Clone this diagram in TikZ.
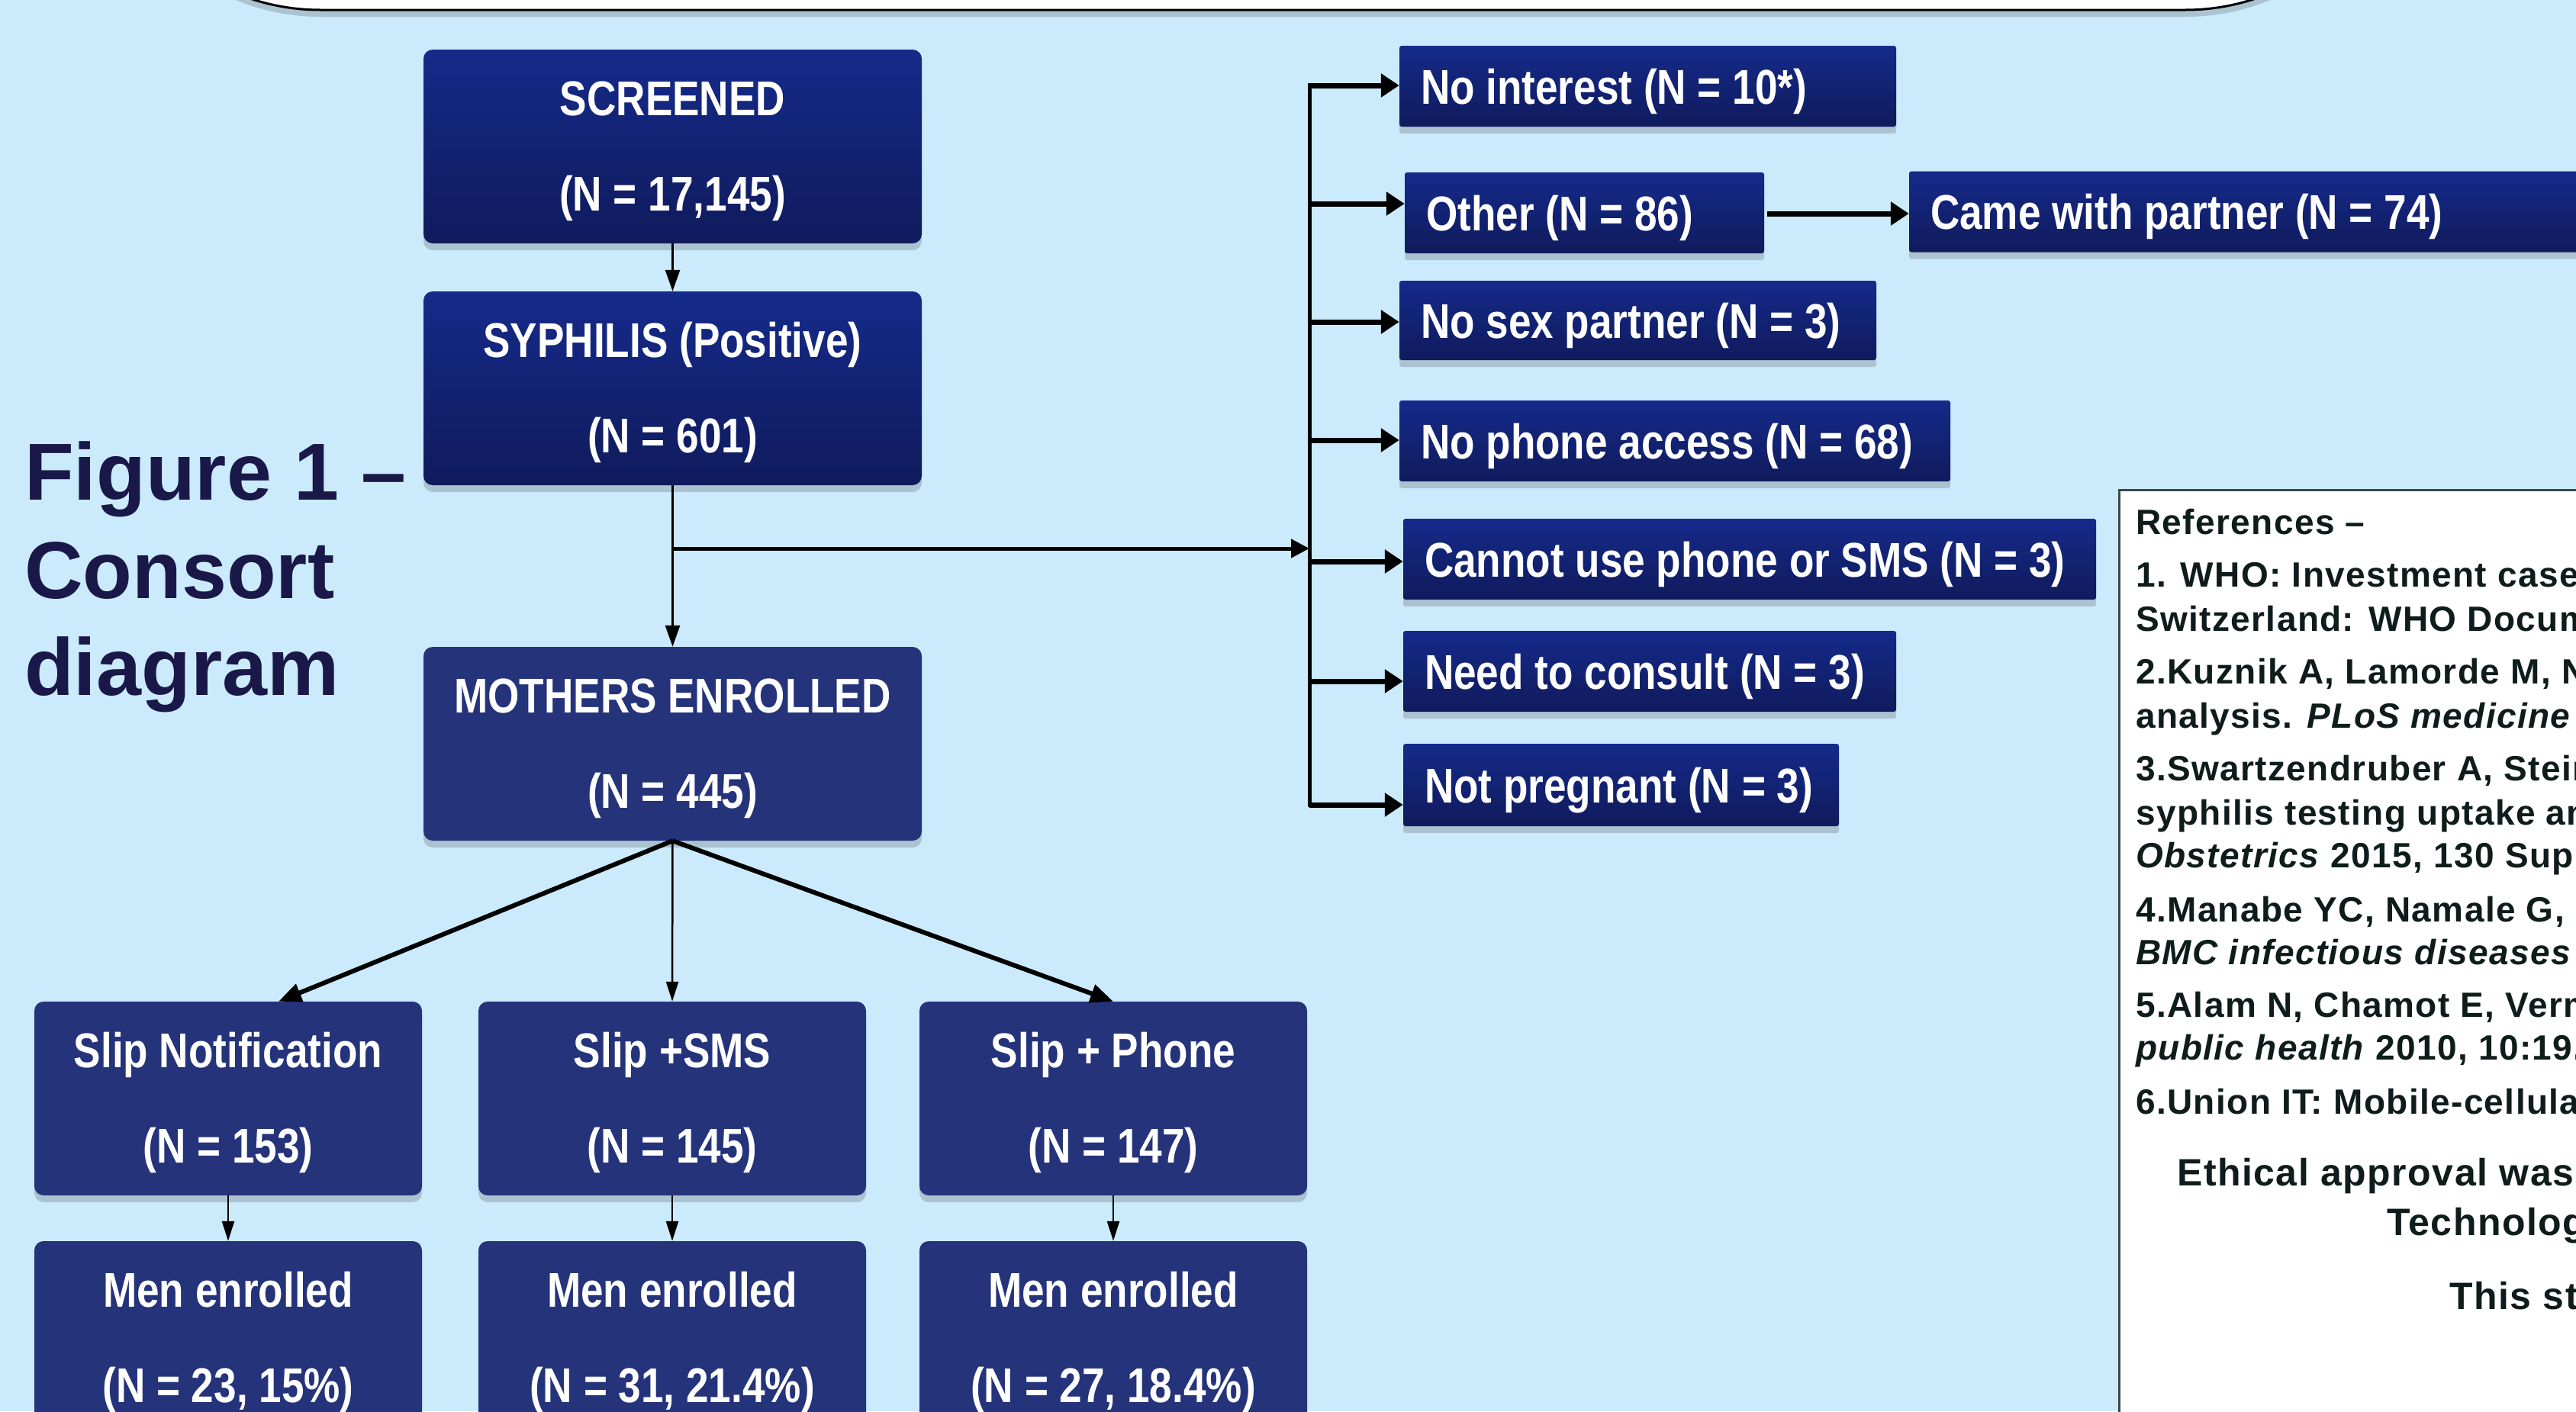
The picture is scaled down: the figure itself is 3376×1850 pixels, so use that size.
\documentclass[tikz,border=0pt]{standalone}
\usepackage{fontspec}
\setmainfont{Liberation Sans}
\newfontfamily\boxfont[FakeStretch=0.83]{Liberation Sans}
\newfontfamily\reffont[LetterSpace=3]{Liberation Sans}
\usetikzlibrary{arrows.meta,shadows}
\definecolor{bg}{HTML}{CBEBFD}
\definecolor{boxtop}{HTML}{152A8A}
\definecolor{boxbot}{HTML}{101B5C}
\definecolor{flatbox}{HTML}{24337A}
\definecolor{figtext}{HTML}{1A1848}
\definecolor{reftext}{HTML}{0F1C1C}
\definecolor{refborder}{HTML}{3A4848}
\newcommand\sidetxt[1]{\mbox{\spaceskip=0pt\xspaceskip=0pt\relax #1}}
\begin{document}
\begin{tikzpicture}[x=1pt,y=-1pt,
  shad/.style={drop shadow={shadow xshift=0pt,shadow yshift=-9pt,opacity=0.25,fill=black!70}},
  bigbox/.style={shad, rounded corners=12pt, minimum width=653pt, minimum height=254pt,
    inner sep=0pt, align=center, text=white,
    font=\boxfont\bfseries\fontsize{64}{125}\selectfont, text height=171pt, text depth=3pt},
  gradbox/.style={bigbox, top color=boxtop, bottom color=boxbot},
  flatbig/.style={bigbox, fill=flatbox},
  armbox/.style={flatbig, minimum width=508pt},
  sidebox/.style={shad, rounded corners=3pt, top color=boxtop, bottom color=boxbot,
    inner xsep=28pt, inner ysep=0pt, align=left, text=white, minimum height=106pt,
    font=\boxfont\bfseries\fontsize{64}{70}\selectfont, text height=46pt, text depth=0pt},
  conn/.style={line width=3pt, -{Triangle[length=28pt,width=19pt]}},
  thickconn/.style={line width=6pt, -{Triangle[length=30pt,width=24pt]}},
  thinconn/.style={line width=2.5pt, -{Triangle[length=26pt,width=16pt]}},
  sidearr/.style={line width=7pt, -{Triangle[length=24pt,width=30pt]}},
  figlbl/.style={anchor=base west, text=figtext, inner sep=0pt,
    font=\bfseries\fontsize{106}{128}\selectfont},
  refline/.style={anchor=base west, text=reftext, inner sep=0pt,
    font=\reffont\bfseries\fontsize{46}{58}\selectfont},
  ethline/.style={anchor=base west, text=reftext, inner sep=0pt,
    font=\reffont\bfseries\fontsize{50}{60}\selectfont}
]
\useasboundingbox (0,0) rectangle (3376,1850);
\fill[bg] (0,0) rectangle (3376,1850);

% top white banner (only its bottom edge is visible)
\draw[shad, fill=white, draw=black, line width=3pt, rounded corners=290pt]
  (130,-1000) rectangle (3154,13);

% figure label
\node[figlbl] (fig1) at (32,655) {Figure 1 –};
\node[figlbl] (fig2) at (32,784) {Consort};
\node[figlbl] (fig3) at (32,911) {diagram};

% main column
\node[gradbox] (scr) at (881.5,192) {SCREENED\\(N = 17,145)};
\node[gradbox] (syp) at (881.5,509) {SYPHILIS (Positive)\\(N = 601)};
\node[flatbig] (mot) at (881.5,975) {MOTHERS ENROLLED\\(N = 445)};

\node[armbox] (sl1) at (299,1440) {Slip Notification\\(N = 153)};
\node[armbox] (sl2) at (881,1440) {Slip +SMS\\(N = 145)};
\node[armbox] (sl3) at (1459,1440) {Slip + Phone\\(N = 147)};

\node[armbox] (me1) at (299,1754) {Men enrolled\\(N = 23, 15\%)};
\node[armbox] (me2) at (881,1754) {Men enrolled\\(N = 31, 21.4\%)};
\node[armbox] (me3) at (1459,1754) {Men enrolled\\(N = 27, 18.4\%)};

% exclusion boxes
\node[sidebox, text width=595pt] (ni) at (2159.5,113) {\sidetxt{No interest (N = 10*)}};
\node[sidebox, text width=415pt] (ot) at (2076.5,279) {\sidetxt{Other (N = 86)}};
\node[sidebox, text width=894pt] (cw) at (2977,277.5) {\sidetxt{Came with partner (N = 74)}};
\node[sidebox, text width=569pt, minimum height=104pt] (ns) at (2146.5,420) {\sidetxt{No sex partner (N = 3)}};
\node[sidebox, text width=666pt] (np) at (2195,578) {\sidetxt{No phone access (N = 68)}};
\node[sidebox, text width=852pt] (cu) at (2293,733) {\sidetxt{Cannot use phone or SMS (N = 3)}};
\node[sidebox, text width=590pt] (nc) at (2162,880) {\sidetxt{Need to consult (N = 3)}};
\node[sidebox, text width=515pt, minimum height=108pt] (ng) at (2124.5,1029) {\sidetxt{Not pregnant (N = 3)}};

% references panel
\draw[fill=white, draw=refborder, line width=3pt] (2777,642) rectangle (3450,1950);
\node[refline] (r0) at (2799,700) {References –};
\node[refline] (r1) at (2799,769) {1. WHO: Investment case};
\node[refline] (r1b) at (2799,827) {Switzerland: WHO Docum};
\node[refline] (r2) at (2799,896) {2.Kuznik A, Lamorde M, N};
\node[refline] (r2b) at (2799,954) {analysis. \textit{PLoS medicine} 2};
\node[refline] (r3) at (2799,1023) {3.Swartzendruber A, Stein};
\node[refline] (r3b) at (2799,1081) {syphilis testing uptake an};
\node[refline] (r3c) at (2799,1137) {\textit{Obstetrics} 2015, 130 Supp};
\node[refline] (r4) at (2799,1208) {4.Manabe YC, Namale G,};
\node[refline] (r4b) at (2799,1264) {\textit{BMC infectious diseases}};
\node[refline] (r5) at (2799,1333) {5.Alam N, Chamot E, Verm};
\node[refline] (r5b) at (2799,1389) {\textit{public health} 2010, 10:19.};
\node[refline] (r6) at (2799,1460) {6.Union IT: Mobile-cellular};
\node[ethline] (e1) at (2853,1554) {Ethical approval was};
\node[ethline] (e2) at (3128,1619) {Technolog};
\node[ethline] (e3) at (3210,1716) {This st};

% main connectors
\draw[conn] (scr.south) -- (syp.north);
\draw[conn] (syp.south) -- (mot.north);
\coordinate (brs) at (881.5,719);
\coordinate (bre) at (1716,719);
\draw[line width=5pt, -{Triangle[length=24pt,width=24pt]}] (brs) -- (bre);

\draw[thickconn] (mot.south) -- ([xshift=66pt]sl1.north);
\draw[thinconn] (mot.south) -- (sl2.north);
\draw[thickconn] (mot.south) -- (sl3.north);

\draw[thinconn] (sl1.south) -- (me1.north);
\draw[thinconn] (sl2.south) -- (me2.north);
\draw[thinconn] (sl3.south) -- (me3.north);

% bracket
\coordinate (b1) at (1716,112);
\coordinate (b2) at (1716,267);
\coordinate (b3) at (1716,422);
\coordinate (b4) at (1716,577);
\coordinate (b5) at (1716,736);
\coordinate (b6) at (1716,893);
\coordinate (b7) at (1716,1055);
\draw[line width=5pt] ([yshift=3.5pt]b1) -- ([yshift=-3pt]b7);
\draw[sidearr] (b1) -- (b1 -| ni.west);
\draw[sidearr] (b2) -- (b2 -| ot.west);
\draw[sidearr] (b3) -- (b3 -| ns.west);
\draw[sidearr] (b4) -- (b4 -| np.west);
\draw[sidearr] (b5) -- (b5 -| cu.west);
\draw[sidearr] (b6) -- (b6 -| nc.west);
\draw[sidearr] (b7) -- (b7 -| ng.west);
\coordinate (oc) at (2316,280);
\draw[sidearr] (oc) -- (oc -| cw.west);
\end{tikzpicture}
\end{document}
